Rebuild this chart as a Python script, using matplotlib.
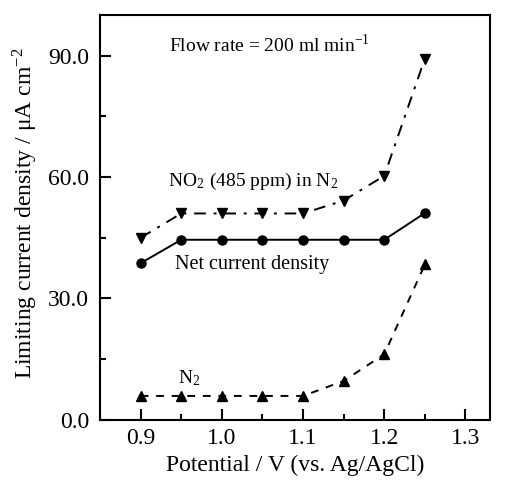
import matplotlib.pyplot as plt
from matplotlib.ticker import MultipleLocator

plt.rcParams['font.family'] = ['Liberation Serif', 'DejaVu Serif']
plt.rcParams['mathtext.fontset'] = 'stix'

# potencial (V vs. Ag/AgCl)
potencial = [0.9, 0.95, 1.0, 1.05, 1.1, 1.15, 1.2, 1.25]
no2_n2 = [45.0, 51.0, 51.0, 51.0, 51.0, 54.2, 60.3, 89.3]
neta = [38.7, 44.5, 44.5, 44.5, 44.5, 44.5, 44.5, 51.1]
n2 = [5.9, 5.9, 5.9, 5.9, 5.9, 9.6, 16.2, 38.4]

fig = plt.figure(figsize=(5.05, 4.91), dpi=100)
ax = fig.add_axes([0.198, 0.145, 0.772, 0.824])

ax.plot(potencial, no2_n2, color='black', lw=1.4, ls=(0, (6, 4, 1.5, 4)),
        marker='v', ms=6.5)
ax.plot(potencial, neta, color='black', lw=1.4, ls='-', marker='o', ms=6.5)
ax.plot(potencial, n2, color='black', lw=1.4, ls=(0, (4, 4)), marker='^', ms=6.5)

ax.text(0.935, 92.6, r'Flow rate = 200 ml min$^{\mathregular{-1}}$', fontsize=14,
        va='center')
ax.text(0.934, 58.8, r'NO$_{\mathregular{2}}$ (485 ppm) in N$_{\mathregular{2}}$',
        fontsize=14, va='center')
ax.text(0.942, 38.3, 'Net current density', fontsize=14.5, va='center')
ax.text(0.946, 10.4, r'N$_{\mathregular{2}}$', fontsize=14, va='center')

ax.set_xlim(0.85, 1.33)
ax.set_ylim(0, 100)
ax.xaxis.set_minor_locator(MultipleLocator(0.05))
ax.yaxis.set_minor_locator(MultipleLocator(15))
ax.set_xticks([0.9, 1.0, 1.1, 1.2, 1.3])
ax.set_xticklabels(['0.9', '1.0', '1.1', '1.2', '1.3'])
ax.set_yticks([0, 30, 60, 90])
ax.set_yticklabels(['0.0', '30.0', '60.0', '90.0'])
ax.tick_params(which='both', direction='in', labelsize=17, width=1.5)
ax.tick_params(which='major', length=8)
ax.tick_params(axis='y', which='major', pad=8)
ax.tick_params(axis='x', which='major', pad=6)
ax.tick_params(which='minor', length=4)
for s in ax.spines.values():
    s.set_linewidth(1.5)

ax.set_xlabel('Potential / V (vs. Ag/AgCl)', fontsize=17, labelpad=4)
ax.set_ylabel(r'Limiting current density / $\mathregular{\mu}$A cm$^{\mathregular{-2}}$',
              fontsize=17)
ax.yaxis.set_label_coords(-0.155, 0.51)

fig.savefig('out.png', dpi=100)
